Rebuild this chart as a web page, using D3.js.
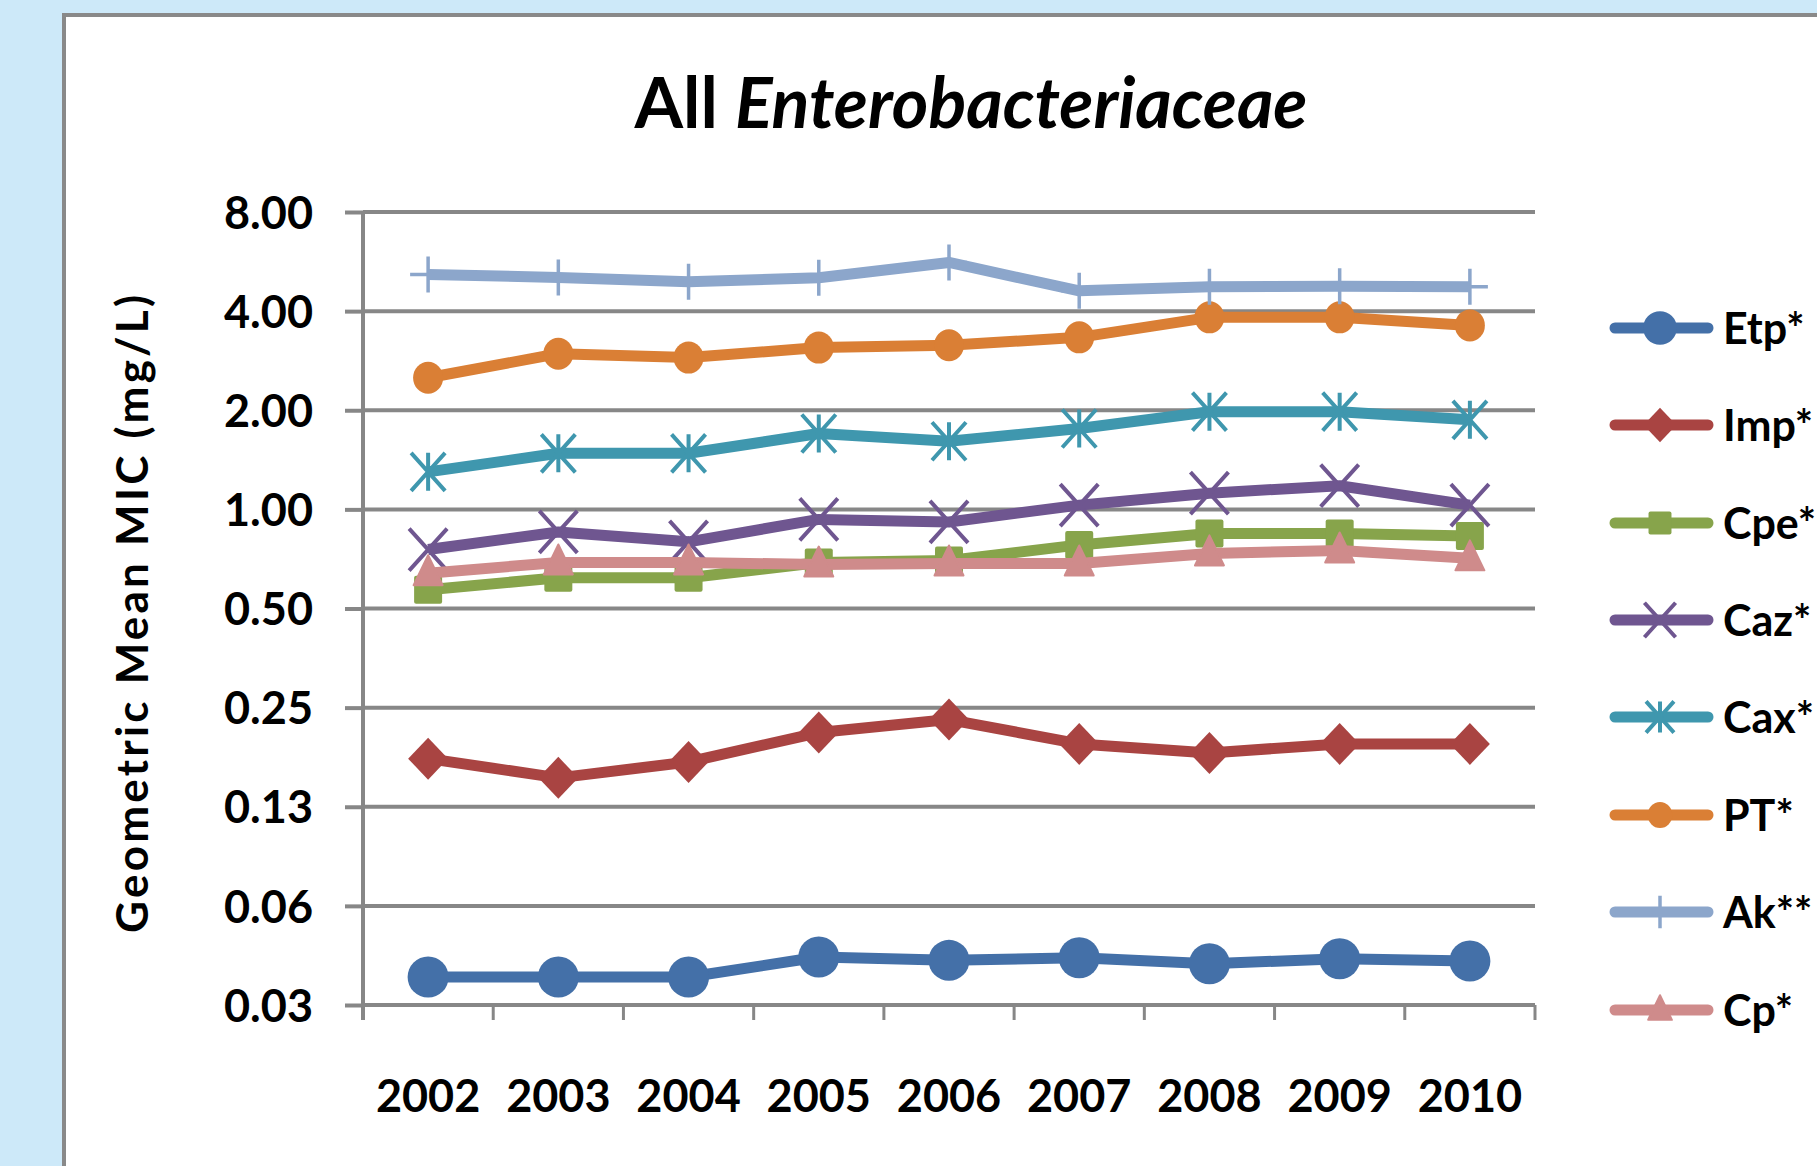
<!DOCTYPE html>
<html>
<head>
<meta charset="utf-8">
<script src="https://cdn.jsdelivr.net/npm/d3@7"></script>
<style>
  html, body { margin: 0; padding: 0; background: #cde9f9; overflow: hidden; }
  svg { display: block; }
  text { font-family: Lato, "Open Sans", sans-serif; font-weight: 700; fill: #000; }
</style>
</head>
<body>
<svg id="chart" width="1817" height="1166"></svg>
<script>
// Geometric mean MIC (mg/L) per year for each agent
const years = ["2002", "2003", "2004", "2005", "2006", "2007", "2008", "2009", "2010"];
const etp = [0.038, 0.038, 0.038, 0.0437, 0.0427, 0.0435, 0.0417, 0.0432, 0.0425];
const imp = [0.175, 0.153, 0.171, 0.210, 0.230, 0.194, 0.182, 0.194, 0.194];
const cpe = [0.57, 0.62, 0.62, 0.69, 0.70, 0.78, 0.845, 0.845, 0.83];
const caz = [0.755, 0.854, 0.797, 0.932, 0.916, 1.03, 1.12, 1.18, 1.03];
const cax = [1.30, 1.48, 1.48, 1.70, 1.61, 1.76, 1.98, 1.98, 1.87];
const pt  = [2.51, 2.97, 2.89, 3.10, 3.15, 3.33, 3.83, 3.83, 3.62];
const ak  = [5.17, 5.06, 4.91, 5.05, 5.62, 4.61, 4.74, 4.76, 4.74];
const cp  = [0.64, 0.69, 0.69, 0.68, 0.685, 0.685, 0.735, 0.75, 0.71];

const seriesNames = ["Etp*", "Imp*", "Cpe*", "Caz*", "Cax*", "PT*", "Ak**", "Cp*"];
const seriesValues = [etp, imp, cpe, caz, cax, pt, ak, cp];
const seriesColors = ["#4470a8", "#a94442", "#87a44b", "#6f5690", "#3f97ae", "#da7f35", "#8ca6cb", "#cf8b8b"];
const seriesMarkers = ["circle", "diamond", "square", "x", "star", "dot", "plus", "triangle"];

const tickValues = [8, 4, 2, 1, 0.5, 0.25, 0.125, 0.0625, 0.03125];
const tickLabels = ["8.00", "4.00", "2.00", "1.00", "0.50", "0.25", "0.13", "0.06", "0.03"];

const svg = d3.select("#chart");
const W = 1817, H = 1166;
const plot = { left: 363, right: 1535, top: 212, bottom: 1005 };
const axisGray = "#878787";

// backdrop and framed white panel
svg.append("rect").attr("width", W).attr("height", H).attr("fill", "#cde9f9");
svg.append("rect")
  .attr("x", 64).attr("y", 15).attr("width", W + 20).attr("height", H + 20)
  .attr("fill", "#fff").attr("stroke", "#898989").attr("stroke-width", 4);

// title
const title = svg.append("text")
  .attr("x", 971).attr("y", 128)
  .attr("text-anchor", "middle")
  .style("font-size", "70px");
title.append("tspan").text("All ");
title.append("tspan").style("font-style", "italic").text("Enterobacteriaceae");

// scales
const x = d3.scaleBand().domain(years).range([plot.left, plot.right]);
const cx = d => x(d) + x.bandwidth() / 2;
const y = d3.scaleLog().base(2).domain([0.03125, 8]).range([plot.bottom, plot.top]);

// horizontal gridlines
svg.append("g").selectAll("line").data(tickValues).join("line")
  .attr("x1", plot.left).attr("x2", plot.right)
  .attr("y1", d => y(d)).attr("y2", d => y(d))
  .attr("stroke", axisGray).attr("stroke-width", 4);

// y axis
const yAxis = svg.append("g")
  .attr("transform", `translate(${plot.left},0)`)
  .call(d3.axisLeft(y).tickValues(tickValues)
    .tickFormat((d, i) => tickLabels[i]).tickSize(18).tickPadding(32));
yAxis.select(".domain").remove();
yAxis.selectAll(".tick line").attr("stroke", axisGray).attr("stroke-width", 4);
yAxis.selectAll(".tick text")
  .attr("dy", "0.36em")
  .style("font-family", "Lato, sans-serif").style("font-weight", 700).style("font-size", "45px")
  .attr("fill", "#000");
svg.append("line")
  .attr("x1", plot.left).attr("x2", plot.left)
  .attr("y1", plot.top).attr("y2", plot.bottom + 15)
  .attr("stroke", axisGray).attr("stroke-width", 4);

// x axis: boundary ticks and centred year labels
const edges = years.map(d => x(d)).concat([plot.right]);
svg.append("g").selectAll("line").data(edges).join("line")
  .attr("x1", d => d).attr("x2", d => d)
  .attr("y1", plot.bottom).attr("y2", plot.bottom + 15)
  .attr("stroke", axisGray).attr("stroke-width", 3);
const xAxis = svg.append("g")
  .attr("transform", `translate(0,${plot.bottom})`)
  .call(d3.axisBottom(x).tickSize(0).tickPadding(0));
xAxis.select(".domain").remove();
xAxis.selectAll(".tick text")
  .attr("y", 107).attr("dy", 0)
  .style("font-family", "Lato, sans-serif").style("font-weight", 700).style("font-size", "45px")
  .attr("fill", "#000");

// y axis title
svg.append("text")
  .attr("transform", "translate(148,614) rotate(-90)")
  .attr("text-anchor", "middle")
  .attr("textLength", 638).attr("lengthAdjust", "spacing")
  .style("font-size", "44px")
  .text("Geometric Mean MIC (mg/L)");

// marker drawing
function drawMarker(g, type, color, s) {
  switch (type) {
    case "circle":
      g.append("circle").attr("r", 20.5 * s).attr("fill", color); break;
    case "dot":
      g.append("ellipse").attr("rx", 15 * s).attr("ry", 16 * s).attr("fill", color); break;
    case "diamond":
      g.append("path").attr("d", `M0,${-21 * s}L${20 * s},0L0,${21 * s}L${-20 * s},0Z`).attr("fill", color); break;
    case "square":
      g.append("rect").attr("x", -14 * s).attr("y", -14 * s).attr("width", 28 * s).attr("height", 28 * s)
        .attr("rx", 2).attr("fill", color); break;
    case "triangle":
      g.append("path").attr("d", `M0,${-18 * s}L${14.5 * s},${12 * s}L${-14.5 * s},${12 * s}Z`)
        .attr("fill", color).attr("stroke", color).attr("stroke-width", 2).attr("stroke-linejoin", "round"); break;
    case "x":
      g.append("path").attr("d", `M${-19 * s},${-21 * s}L${19 * s},${21 * s}M${19 * s},${-21 * s}L${-19 * s},${21 * s}`)
        .attr("stroke", color).attr("stroke-width", 4).attr("fill", "none"); break;
    case "star":
      g.append("path").attr("d", `M${-17 * s},${-19 * s}L${17 * s},${19 * s}M${17 * s},${-19 * s}L${-17 * s},${19 * s}M0,${-19 * s}L0,${19 * s}`)
        .attr("stroke", color).attr("stroke-width", 4).attr("fill", "none"); break;
    case "plus":
      g.append("path").attr("d", `M0,${-18 * s}L0,${18 * s}M${-18 * s},0L${18 * s},0`)
        .attr("stroke", color).attr("stroke-width", 3.5).attr("fill", "none"); break;
  }
}

const line = d3.line().x((d, i) => cx(years[i])).y(d => y(d));

// series lines with markers, in legend order
seriesValues.forEach((vals, k) => {
  const g = svg.append("g");
  const color = seriesColors[k];
  // the plus marker sits under its line so only the stems show
  if (seriesMarkers[k] === "plus") {
    vals.forEach((v, i) => drawMarker(g.append("g").attr("transform", `translate(${cx(years[i])},${y(v)})`), "plus", color, 1));
  }
  g.append("path").datum(vals)
    .attr("d", line)
    .attr("fill", "none").attr("stroke", color)
    .attr("stroke-width", 11).attr("stroke-linejoin", "round");
  if (seriesMarkers[k] !== "plus") {
    vals.forEach((v, i) => drawMarker(g.append("g").attr("transform", `translate(${cx(years[i])},${y(v)})`), seriesMarkers[k], color, 1));
  }
});

// legend
const legendRows = [328, 425, 523, 620, 717, 815, 912, 1010];
seriesNames.forEach((name, k) => {
  const g = svg.append("g").attr("transform", `translate(0,${legendRows[k]})`);
  const color = seriesColors[k];
  if (seriesMarkers[k] === "plus") drawMarker(g.append("g").attr("transform", "translate(1660,0)"), "plus", color, 0.9);
  g.append("line").attr("x1", 1615).attr("x2", 1708).attr("y1", 0).attr("y2", 0)
    .attr("stroke", color).attr("stroke-width", 11).attr("stroke-linecap", "round");
  if (seriesMarkers[k] !== "plus") drawMarker(g.append("g").attr("transform", "translate(1660,0)"), seriesMarkers[k], color, 0.82);
  g.append("text").attr("x", 1723).attr("y", 15.5).style("font-size", "43px").text(name);
});
</script>
</body>
</html>
